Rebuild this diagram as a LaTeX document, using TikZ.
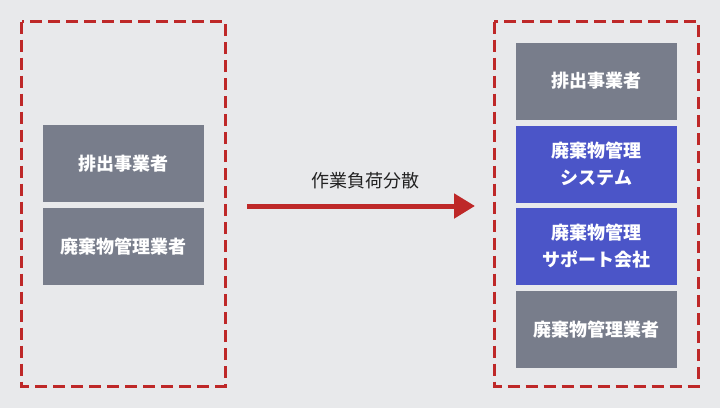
\documentclass[tikz,border=0pt]{standalone}
\usepackage{fontspec}
\usetikzlibrary{arrows.meta}
\newfontfamily\jpfont{Noto Sans CJK JP}
\definecolor{bgcol}{RGB}{232,233,235}
\definecolor{framered}{RGB}{190,40,40}
\definecolor{roleg}{RGB}{120,125,139}
\definecolor{roleb}{RGB}{75,85,200}
\definecolor{textdark}{RGB}{34,34,34}
\begin{document}
\begin{tikzpicture}[x=1pt,y=-1pt,
  role/.style={fill=roleg, text=white, minimum width=161pt, minimum height=77pt,
    inner sep=0pt, align=center, font=\jpfont\bfseries\fontsize{18}{27}\selectfont},
  sysrole/.style={role, fill=roleb},
  group/.style={draw=framered, line width=3pt, dash pattern=on 12pt off 6pt}]
\useasboundingbox[fill=bgcol] (0,0) rectangle (720,408);
\draw[group] (21.5,21.5) rectangle (225,386);
\draw[group] (494,21.5) rectangle (698.5,386);
\node[role] (lhaishutsu) at (123.5,163.5) {排出事業者};
\node[role] (lgyosha) at (123.5,246.5) {廃棄物管理業者};
\node[role] (rhaishutsu) at (596.5,81) {排出事業者};
\node[sysrole] (rsystem) at (596.5,164) {廃棄物管理\\システム};
\node[sysrole] (rsupport) at (596.5,246.5) {廃棄物管理\\サポート会社};
\node[role] (rgyosha) at (596.5,329.5) {廃棄物管理業者};
\coordinate (start) at (247,206);
\coordinate (end) at (475,206);
\draw[framered, line width=5pt, -{Triangle[length=21pt,width=24pt]}] (start) -- (end)
  node[midway, above=11pt, xshift=4pt, text=textdark, font=\jpfont\fontsize{18}{22}\selectfont] (label) {作業負荷分散};
\end{tikzpicture}
\end{document}
